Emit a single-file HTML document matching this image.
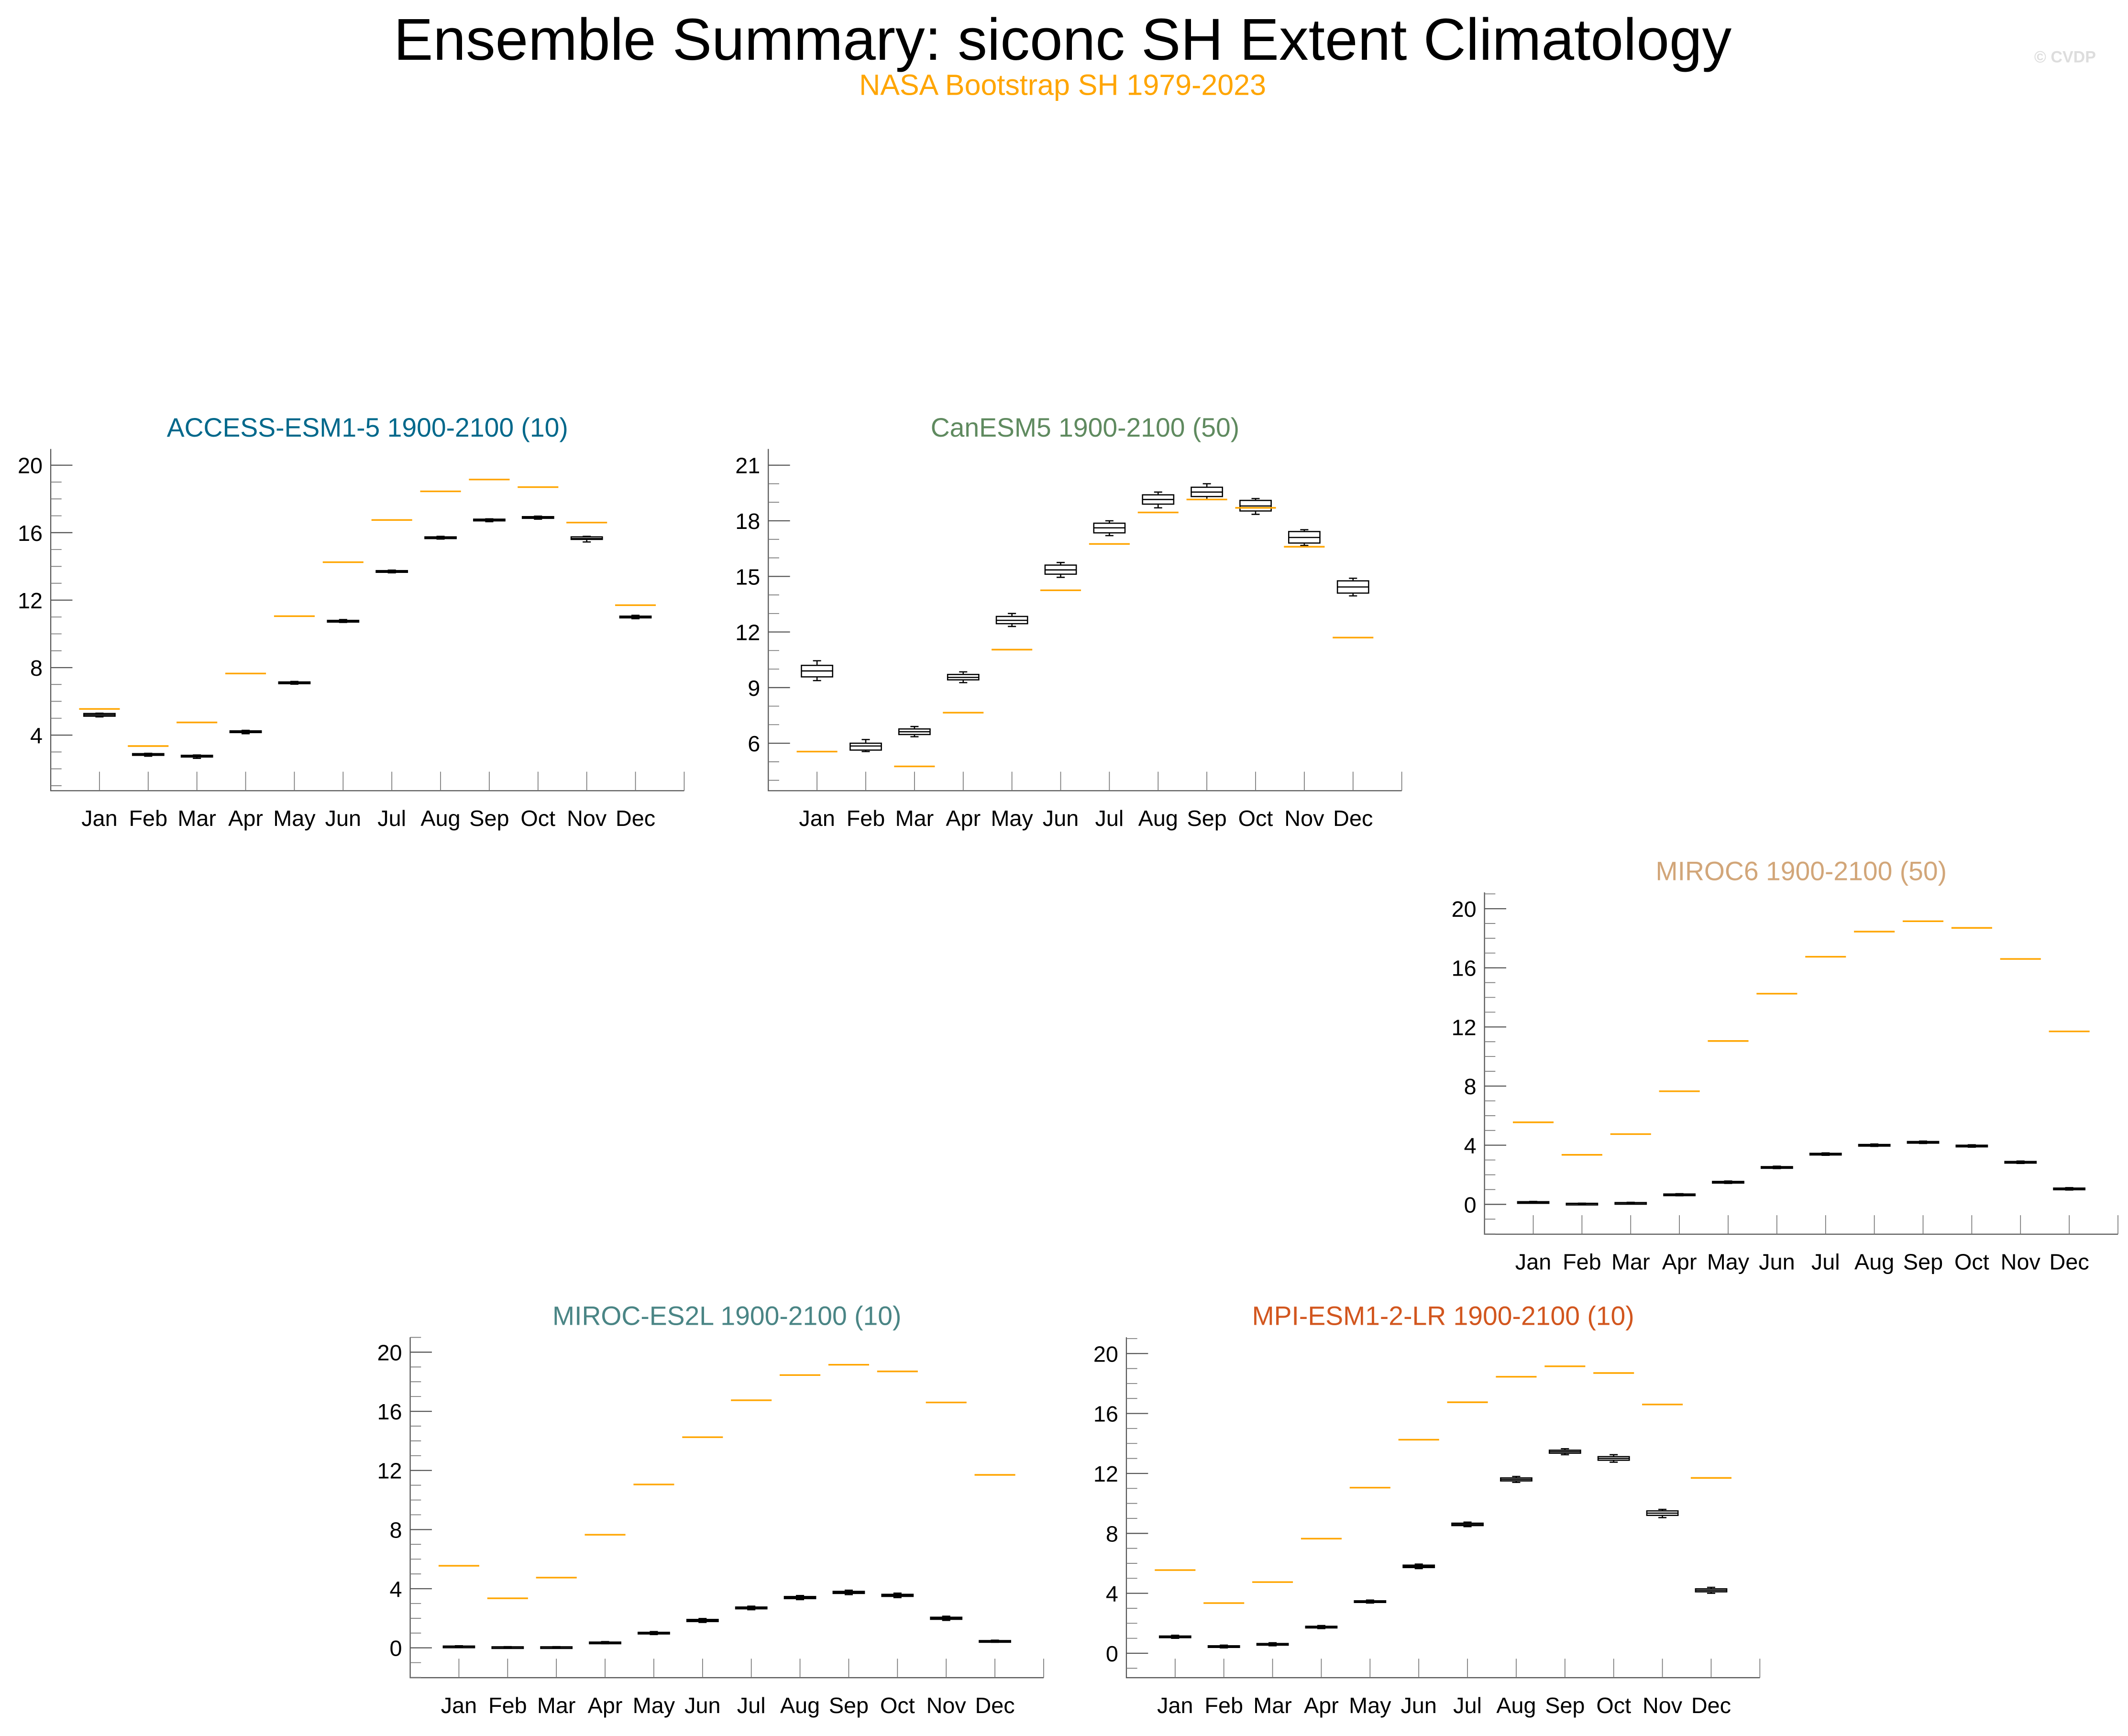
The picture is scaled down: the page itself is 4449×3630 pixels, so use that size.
<!DOCTYPE html>
<html><head><meta charset="utf-8">
<style>
html,body{margin:0;padding:0;background:#fff;}
svg{display:block;font-family:"Liberation Sans",sans-serif;}
</style></head>
<body>
<svg id="chart" width="4449" height="3630" viewBox="0 0 1568 1280" xmlns="http://www.w3.org/2000/svg">
<defs id="defs"></defs>
<text x="783" y="44" font-size="43.5" text-anchor="middle" fill="#000">Ensemble Summary: siconc SH Extent Climatology</text>
<text x="783" y="70" font-size="21.5" text-anchor="middle" fill="#FFA500">NASA Bootstrap SH 1979-2023</text>
<text x="1522" y="46" font-size="12" text-anchor="middle" fill="#ddd" font-weight="bold">© CVDP</text>
<g id="panels"></g>
</svg>
<script>
const months = ["Jan","Feb","Mar","Apr","May","Jun","Jul","Aug","Sep","Oct","Nov","Dec"];
const obsValues = [5.55,3.35,4.75,7.65,11.05,14.25,16.75,18.45,19.15,18.7,16.6,11.7];

const accessMed = [5.2,2.85,2.75,4.2,7.1,10.75,13.7,15.7,16.75,16.9,15.65,11.0];
const accessQ1  = [5.12,2.8,2.7,4.15,7.05,10.7,13.65,15.65,16.7,16.85,15.6,10.95];
const accessQ3  = [5.28,2.9,2.8,4.25,7.15,10.8,13.75,15.75,16.8,16.95,15.75,11.05];
const accessLo  = [5.08,2.75,2.62,4.08,7.02,10.68,13.62,15.62,16.65,16.8,15.45,10.9];
const accessHi  = [5.3,2.92,2.82,4.28,7.18,10.85,13.78,15.78,16.82,16.98,15.78,11.1];

const canMed = [9.9,5.85,6.62,9.55,12.63,15.35,17.62,19.15,19.55,18.8,17.1,14.43];
const canQ1  = [9.58,5.63,6.47,9.42,12.45,15.12,17.35,18.9,19.31,18.53,16.8,14.1];
const canQ3  = [10.2,6.0,6.77,9.71,12.84,15.61,17.87,19.4,19.81,19.1,17.42,14.76];
const canLo  = [9.38,5.55,6.35,9.27,12.3,14.95,17.2,18.7,19.15,18.35,16.67,13.95];
const canHi  = [10.45,6.2,6.9,9.85,13.0,15.75,18.0,19.55,20.0,19.2,17.52,14.9];

const miroc6Med = [0.15,0.05,0.1,0.65,1.5,2.5,3.4,4.0,4.2,3.95,2.85,1.05];
const miroc6Q1  = [0.12,0.03,0.08,0.6,1.45,2.45,3.35,3.95,4.15,3.9,2.8,1.0];
const miroc6Q3  = [0.18,0.07,0.12,0.7,1.55,2.55,3.45,4.05,4.25,4.0,2.9,1.1];
const miroc6Lo  = [0.1,0.02,0.06,0.58,1.42,2.42,3.32,3.92,4.12,3.87,2.77,0.97];
const miroc6Hi  = [0.2,0.08,0.14,0.72,1.58,2.58,3.48,4.08,4.28,4.03,2.93,1.13];

const es2lMed = [0.1,0.05,0.05,0.35,1.0,1.85,2.7,3.4,3.75,3.55,2.0,0.45];
const es2lQ1  = [0.08,0.03,0.03,0.31,0.95,1.78,2.64,3.33,3.68,3.48,1.93,0.41];
const es2lQ3  = [0.12,0.07,0.07,0.39,1.05,1.92,2.76,3.47,3.82,3.62,2.07,0.49];
const es2lLo  = [0.06,0.02,0.02,0.28,0.9,1.72,2.58,3.26,3.6,3.4,1.86,0.38];
const es2lHi  = [0.14,0.08,0.08,0.42,1.1,1.98,2.82,3.54,3.9,3.7,2.14,0.52];

const mpiMed = [1.1,0.45,0.6,1.75,3.45,5.8,8.6,11.6,13.45,13.0,9.35,4.2];
const mpiQ1  = [1.05,0.4,0.55,1.7,3.4,5.72,8.52,11.5,13.35,12.88,9.2,4.1];
const mpiQ3  = [1.15,0.5,0.65,1.8,3.5,5.88,8.68,11.7,13.55,13.12,9.5,4.3];
const mpiLo  = [1.0,0.36,0.5,1.65,3.35,5.65,8.45,11.4,13.25,12.75,9.05,4.0];
const mpiHi  = [1.2,0.54,0.7,1.85,3.55,5.95,8.75,11.8,13.65,13.25,9.6,4.4];

const accessTicks = [4,8,12,16,20];
const canTicks = [6,9,12,15,18,21];
const zeroTicks = [0,4,8,12,16,20];

const NS = "http://www.w3.org/2000/svg";
const root = document.getElementById("panels");
const defs = document.getElementById("defs");
function mk(tag, attrs, parent){
  const e = document.createElementNS(NS, tag);
  for (const k in attrs) e.setAttribute(k, attrs[k]);
  (parent||root).appendChild(e);
  return e;
}

function drawPanel(p){
  const g = mk("g", {});
  
  
  const W = 467;
  const cp = mk("clipPath", {id: "clip-" + p.name}, defs);
  mk("rect", {x: p.x0, y: p.top, width: W, height: p.bottom - p.top - 0.5}, cp);
  const yv = v => p.ya[1] + (v - p.ya[0]) * (p.yb[1] - p.ya[1]) / (p.yb[0] - p.ya[0]);
  const xv = i => p.x0 + (i + 1) * W / 13;
  const t = mk("text", {x: p.x0 + W/2, y: p.top - 9, "font-size": 19.5, "text-anchor": "middle", fill: p.color}, g);
  t.textContent = p.title;
  
  
  const ax = mk("path", {d: `M${p.x0},${p.top} V${p.bottom} H${p.x0+W}`, stroke: "#555", "stroke-width": 0.8, fill: "none"}, g);
  
  
  const vTop = p.ya[0] + (p.top - p.ya[1]) * (p.yb[0] - p.ya[0]) / (p.yb[1] - p.ya[1]);
  const vBot = p.ya[0] + (p.bottom - p.ya[1]) * (p.yb[0] - p.ya[0]) / (p.yb[1] - p.ya[1]);
  for (let v = Math.ceil(vBot); v <= Math.floor(vTop); v++){
    const y = yv(v);
    mk("line", {x1: p.x0, x2: p.x0 + 8, y1: y, y2: y, stroke: "#777", "stroke-width": 0.6}, g);
  }
  p.ticks.forEach(v => {
    const y = yv(v);
    mk("line", {x1: p.x0, x2: p.x0 + 16, y1: y, y2: y, stroke: "#555", "stroke-width": 0.8}, g);
    const tl = mk("text", {x: p.x0 - 6, y: y + 6, "font-size": 16.5, "text-anchor": "end", fill: "#000"}, g);
    tl.textContent = v;
    
    
  });
  for (let i = 0; i < 13; i++){
    const x = p.x0 + (i + 1) * W / 13;
    mk("line", {x1: x, x2: x, y1: p.bottom, y2: p.bottom - 14, stroke: "#777", "stroke-width": 0.6}, g);
  }
  months.forEach((m, i) => {
    const tl = mk("text", {x: xv(i), y: p.bottom + 26, "font-size": 16.5, "text-anchor": "middle", fill: "#000"}, g);
    tl.textContent = m;
    
    
  });
  const plot = mk("g", {"clip-path": "url(#clip-" + p.name + ")"}, g);
  months.forEach((m, i) => {
    const x = xv(i), bw = 11.5;
    const bg = mk("g", {}, plot);
    
    
    const ylo = yv(p.lo[i]), yhi = yv(p.hi[i]), yq1 = yv(p.q1[i]), yq3 = yv(p.q3[i]), ym = yv(p.med[i]);
    mk("line", {x1: x, x2: x, y1: yhi, y2: yq3, stroke: "#000", "stroke-width": 0.9}, bg);
    mk("line", {x1: x, x2: x, y1: yq1, y2: ylo, stroke: "#000", "stroke-width": 0.9}, bg);
    mk("line", {x1: x-3, x2: x+3, y1: yhi, y2: yhi, stroke: "#000", "stroke-width": 0.9}, bg);
    mk("line", {x1: x-3, x2: x+3, y1: ylo, y2: ylo, stroke: "#000", "stroke-width": 0.9}, bg);
    mk("rect", {x: x-bw, y: yq3, width: bw*2, height: Math.max(yq1-yq3, 1.2), fill: "none", stroke: "#000", "stroke-width": 0.9}, bg);
    mk("line", {x1: x-bw, x2: x+bw, y1: ym, y2: ym, stroke: "#000", "stroke-width": 0.9}, bg);
  });
  obsValues.forEach((v, i) => {
    const y = yv(v);
    const ol = mk("line", {x1: xv(i)-15, x2: xv(i)+15, y1: y, y2: y, stroke: "#FFA500", "stroke-width": 1.2}, plot);
    
    
  });
}

drawPanel({name:"access-esm1-5", title:"ACCESS-ESM1-5 1900-2100 (10)", color:"#00688B", x0:37, top:331, bottom:583, ya:[20,343], yb:[4,542], ticks:accessTicks, med:accessMed, q1:accessQ1, q3:accessQ3, lo:accessLo, hi:accessHi});
drawPanel({name:"canesm5", title:"CanESM5 1900-2100 (50)", color:"#5F8A5F", x0:566, top:331, bottom:583, ya:[21,343], yb:[6,548], ticks:canTicks, med:canMed, q1:canQ1, q3:canQ3, lo:canLo, hi:canHi});
drawPanel({name:"miroc6", title:"MIROC6 1900-2100 (50)", color:"#D2A679", x0:1094, top:658, bottom:910, ya:[20,670], yb:[0,888], ticks:zeroTicks, med:miroc6Med, q1:miroc6Q1, q3:miroc6Q3, lo:miroc6Lo, hi:miroc6Hi});
drawPanel({name:"miroc-es2l", title:"MIROC-ES2L 1900-2100 (10)", color:"#4A8585", x0:302, top:986, bottom:1237, ya:[20,997], yb:[0,1215], ticks:zeroTicks, med:es2lMed, q1:es2lQ1, q3:es2lQ3, lo:es2lLo, hi:es2lHi});
drawPanel({name:"mpi-esm1-2-lr", title:"MPI-ESM1-2-LR 1900-2100 (10)", color:"#D2561E", x0:830, top:986, bottom:1237, ya:[20,998], yb:[0,1219], ticks:zeroTicks, med:mpiMed, q1:mpiQ1, q3:mpiQ3, lo:mpiLo, hi:mpiHi});
</script>
</body></html>
